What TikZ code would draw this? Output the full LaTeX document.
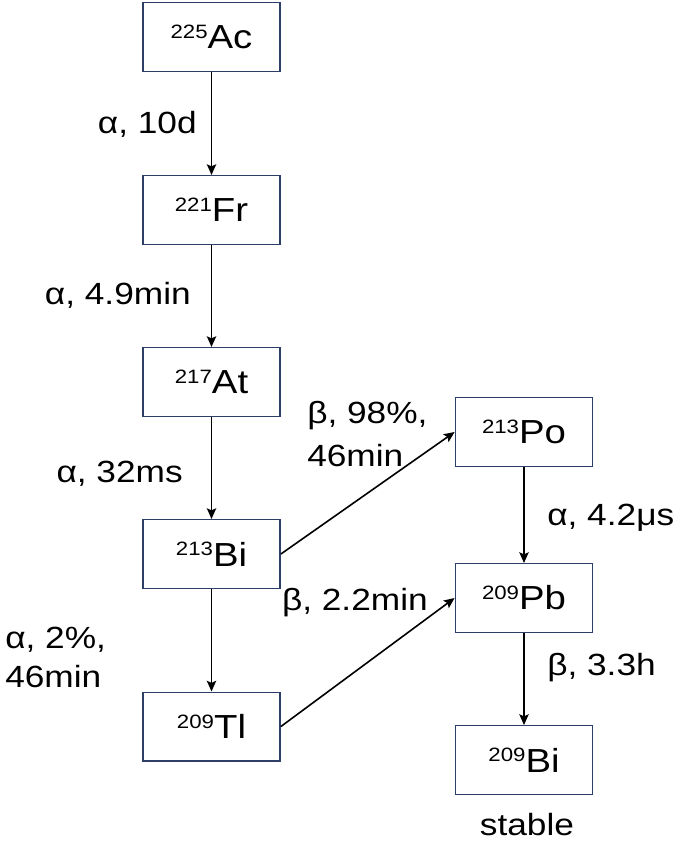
\documentclass[tikz,border=0pt]{standalone}
\usepackage{fontspec}
\setmainfont{Liberation Sans}[FakeStretch=1.15]
\usetikzlibrary{arrows.meta}
\definecolor{boxblue}{RGB}{45,62,105}
\newcommand{\iso}[2]{\raisebox{7.8pt}{\fontsize{14.5}{14.5}\selectfont #1}#2}
\begin{document}
\begin{tikzpicture}[x=0.75pt,y=-0.75pt,
  nuc/.style={draw=boxblue,line width=1.1pt,rectangle,minimum width=103pt,minimum height=51.4pt,inner sep=0pt,font=\fontsize{25}{29}\selectfont},
  lab/.style={font=\fontsize{23}{27}\selectfont,inner sep=0pt},
  arr/.style={-{Stealth[length=8pt,width=7pt,inset=1.5pt]},line width=1.2pt}]
\useasboundingbox (0,0) rectangle (685,842);
% nuclide boxes
\node[nuc] (ac)  at (211.5,37)  {\iso{225}{Ac}};
\node[nuc] (fr)  at (211.5,210) {\iso{221}{Fr}};
\node[nuc] (at)  at (211.5,382) {\iso{217}{At}};
\node[nuc] (bi)  at (211.5,554) {\iso{213}{Bi}};
\node[nuc] (tl)  at (211.5,726.5) {\iso{209}{Tl}};
\node[nuc] (po)  at (524,432)   {\iso{213}{Po}};
\node[nuc] (pb)  at (524,598)   {\iso{209}{Pb}};
\node[nuc] (bis) at (524,760)   {\iso{209}{Bi}};
% connectors
\draw[arr] (ac) -- (fr);
\draw[arr] (fr) -- (at);
\draw[arr] (at) -- (bi);
\draw[arr] (bi) -- (tl);
\draw[arr] (bi.east) -- (po.west);
\draw[arr] (tl.east) -- (pb.west);
\draw[arr] (po) -- (pb);
\draw[arr] (pb) -- (bis);
% labels
\node[lab,anchor=base east] (l1) at (197,133) {α, 10d};
\node[lab,anchor=base east] (l2) at (191,304) {α, 4.9min};
\node[lab,anchor=base east] (l3) at (183,482) {α, 32ms};
\node[lab,anchor=base west] (l4a) at (5,648) {α, 2\%,};
\node[lab,anchor=base west] (l4b) at (5,687) {46min};
\node[lab,anchor=base west] (l5a) at (307,423) {β, 98\%,};
\node[lab,anchor=base west] (l5b) at (307,466) {46min};
\node[lab,anchor=base east] (l6) at (428,610) {β, 2.2min};
\node[lab,anchor=base west] (l7) at (547,525) {α, 4.2μs};
\node[lab,anchor=base west] (l8) at (547,675) {β, 3.3h};
\node[lab,anchor=base] (st) at (527,835) {stable};
\end{tikzpicture}
\end{document}
